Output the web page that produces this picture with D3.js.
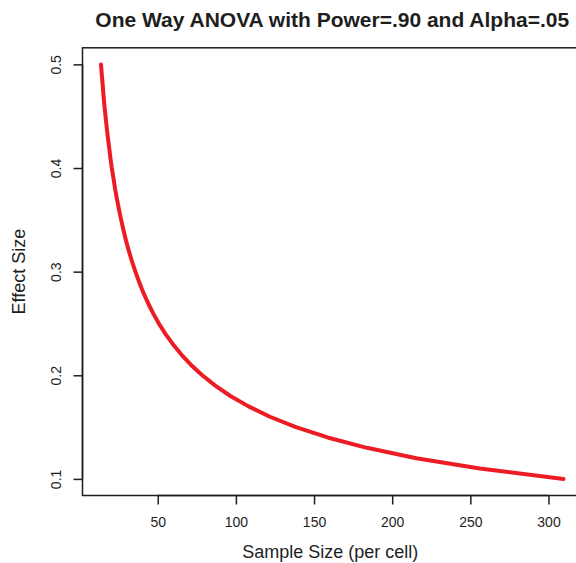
<!DOCTYPE html>
<html>
<head>
<meta charset="utf-8">
<script src="https://cdn.jsdelivr.net/npm/d3@7"></script>
<style>
  html, body { margin: 0; padding: 0; background: #fff; }
  svg { display: block; font-family: "Liberation Sans", Arial, Helvetica, sans-serif; }
</style>
</head>
<body>
<svg id="chart" width="576" height="563"></svg>
<script>
// Data (effect size f vs. sample size per cell)
const effectSizes = [0.10,0.11,0.12,0.13,0.14,0.15,0.16,0.17,0.18,0.19,0.20,
                     0.21,0.22,0.23,0.24,0.25,0.26,0.27,0.28,0.29,0.30,
                     0.31,0.32,0.33,0.34,0.35,0.36,0.37,0.38,0.39,0.40,
                     0.41,0.42,0.43,0.44,0.45,0.46,0.47,0.48,0.49,0.50];
const sampleSizes = [309.6,256.1,215.4,183.8,158.7,138.4,121.8,108.1,96.5,86.8,78.5,
                     71.3,65.1,59.7,54.9,50.7,47.0,43.7,40.7,38.1,35.7,
                     33.5,31.5,29.7,28.1,26.6,25.2,23.9,22.7,21.7,20.6,
                     19.7,18.9,18.05,17.3,16.6,15.9,15.3,14.8,14.2,13.7];
const xTicks = [50,100,150,200,250,300];
const yTicks = [0.1,0.2,0.3,0.4,0.5];
const titleText = "One Way ANOVA with Power=.90 and Alpha=.05";
const xLabel = "Sample Size (per cell)";
const yLabel = "Effect Size";

(function () {
const svg = d3.select("#chart");
const pLeft = 82.5, pRight = 582, pTop = 47.8, pBottom = 495.5;

// R-style 4% padding around data range
const xMin = d3.min(sampleSizes), xMax = d3.max(sampleSizes);
const xPad = (xMax - xMin) * 0.04;
const yMin = d3.min(effectSizes), yMax = d3.max(effectSizes);
const yPad = (yMax - yMin) * 0.04;

const x = d3.scaleLinear().domain([xMin - xPad, xMax + xPad]).range([pLeft, pRight]);
const y = d3.scaleLinear().domain([yMin - yPad, yMax + yPad]).range([pBottom, pTop]);

const ink = "#1e1e1e";

// Title
svg.append("text")
  .attr("x", (pLeft + pRight) / 2).attr("y", 27)
  .attr("text-anchor", "middle")
  .attr("font-weight", "bold").attr("font-size", 21)
  .attr("fill", ink)
  .text(titleText);

// Curve
const pts = sampleSizes.map((n, i) => [n, effectSizes[i]]);
svg.append("path")
  .datum(pts)
  .attr("fill", "none")
  .attr("stroke", "#ec1c24")
  .attr("stroke-width", 4)
  .attr("stroke-linejoin", "round")
  .attr("stroke-linecap", "round")
  .attr("d", d3.line().x(d => x(d[0])).y(d => y(d[1])));

// Box
svg.append("rect")
  .attr("x", pLeft).attr("y", pTop)
  .attr("width", pRight - pLeft).attr("height", pBottom - pTop)
  .attr("fill", "none").attr("stroke", ink).attr("stroke-width", 1.5);

// X axis
const xAxis = svg.append("g")
  .attr("transform", `translate(0,${pBottom})`)
  .call(d3.axisBottom(x).tickValues(xTicks).tickSize(9).tickSizeOuter(0).tickPadding(13)
        .tickFormat(d3.format("d")));
xAxis.select(".domain").remove();
xAxis.append("line")
  .attr("x1", x(xTicks[0])).attr("x2", x(xTicks[xTicks.length - 1]))
  .attr("stroke", ink).attr("stroke-width", 1.5);
xAxis.selectAll(".tick line").attr("stroke", ink).attr("stroke-width", 1.5);
xAxis.selectAll(".tick text").attr("fill", ink).attr("font-size", 14)
  .attr("font-family", "Liberation Sans, Arial, sans-serif");

// Y axis
const yAxis = svg.append("g")
  .attr("transform", `translate(${pLeft},0)`)
  .call(d3.axisLeft(y).tickValues(yTicks).tickSize(9).tickSizeOuter(0).tickFormat(d3.format(".1f")));
yAxis.select(".domain").remove();
yAxis.append("line")
  .attr("y1", y(yTicks[0])).attr("y2", y(yTicks[yTicks.length - 1]))
  .attr("stroke", ink).attr("stroke-width", 1.5);
yAxis.selectAll(".tick line").attr("stroke", ink).attr("stroke-width", 1.5);
yAxis.selectAll(".tick text").remove();
yAxis.selectAll(".tick").append("text")
  .attr("transform", "translate(-26,0) rotate(-90)")
  .attr("text-anchor", "middle")
  .attr("dy", "0.35em")
  .attr("fill", ink).attr("font-size", 14)
  .attr("font-family", "Liberation Sans, Arial, sans-serif")
  .text(d => d3.format(".1f")(d));

// Axis titles
svg.append("text")
  .attr("x", (pLeft + pRight) / 2 - 2).attr("y", 558)
  .attr("text-anchor", "middle").attr("font-size", 18).attr("fill", ink)
  .text(xLabel);

svg.append("text")
  .attr("transform", `translate(19,${(pTop + pBottom) / 2}) rotate(-90)`)
  .attr("text-anchor", "middle").attr("dy", "0.35em")
  .attr("font-size", 18).attr("fill", ink)
  .text(yLabel);
})();
</script>
</body>
</html>
